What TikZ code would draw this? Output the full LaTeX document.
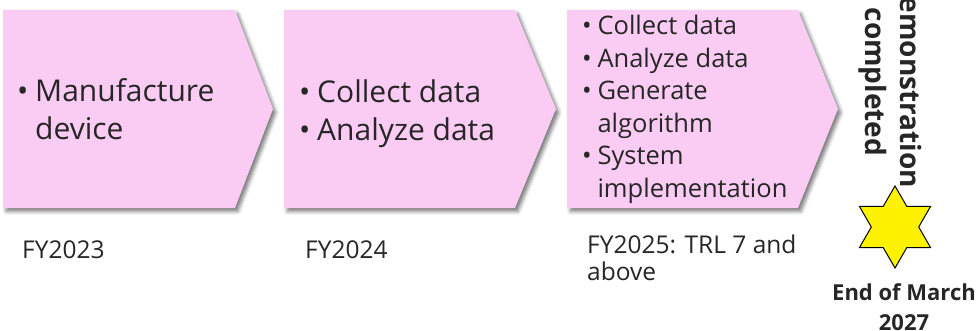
\documentclass[tikz,border=0pt]{standalone}
\usepackage{fontspec}
\setmainfont{Open Sans}
\usepackage{xcolor}
\usetikzlibrary{shapes.geometric, shadows.blur}

\definecolor{phasepink}{RGB}{250,204,244}
\definecolor{inkgray}{RGB}{38,38,38}
\newcommand{\blt}{\makebox[0.6em][l]{\textbullet}}
\newcommand{\ind}{\hspace*{0.6em}}

\begin{document}
\begin{tikzpicture}[x=1pt, y=-1pt,
  phase/.style={fill=phasepink, blur shadow={shadow xshift=3pt, shadow yshift=-3.5pt,
      shadow blur radius=3.5pt, shadow opacity=50}},
  bigitem/.style={anchor=base west, inner sep=0pt, align=left, text=inkgray,
      font=\fontsize{30}{38.5}\selectfont},
  smallitem/.style={anchor=base west, inner sep=0pt, align=left, text=inkgray,
      font=\fontsize{25.5}{32.4}\selectfont},
  yearlabel/.style={anchor=base west, inner sep=0pt, align=left, text=inkgray,
      font=\fontsize{24.5}{27}\selectfont}]
  \useasboundingbox (0,0) rectangle (979,331);

  % Phase chevrons
  \foreach \xa/\xb/\xc in {3/235/273, 284/515/556, 567/798/838} {
    \path[phase] (\xa,10) -- (\xb,10) -- (\xc,109) -- (\xb,208) -- (\xa,208) -- cycle;
  }

  % Tasks (base = last line)
  \node[bigitem] (manufacture) at (17,140) {\blt Manufacture\\\ind device};
  \node[bigitem] (collect) at (299,141) {\blt Collect data\\\blt Analyze data};
  \node[smallitem] (implement) at (582,197)
    {\blt Collect data\\\blt Analyze data\\\blt Generate\\\ind algorithm\\\blt System\\\ind implementation};

  % Fiscal years
  \node[yearlabel] (fy23) at (22,258) {FY2023};
  \node[yearlabel] (fy24) at (305,258) {FY2024};
  \node[yearlabel] (fy25) at (587,280) {FY2025: TRL 7 and\\above};

  % Milestone
  \node[rotate=-90, align=center, inner sep=0pt, text=inkgray,
    font=\fontsize{28}{35}\selectfont\bfseries] (demo) at (890,82) {Demonstration\\completed};
  \node[star, star points=6, star point ratio=1.73, minimum size=82pt, inner sep=0pt,
    fill=yellow, draw=black, line width=1pt] (goal) at (895,227) {};
  \node[anchor=base, align=center, inner sep=0pt, text=inkgray,
    font=\fontsize{22}{30}\selectfont\bfseries] (deadline) at (904,330) {End of March\\2027};
\end{tikzpicture}
\end{document}
